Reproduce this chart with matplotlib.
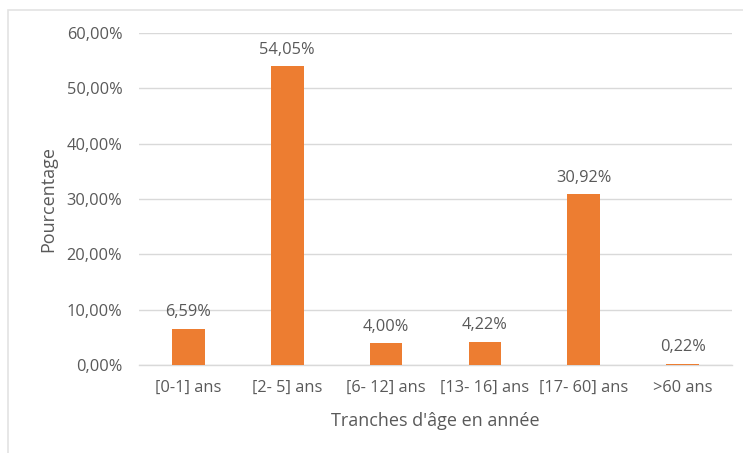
import matplotlib
matplotlib.use("Agg")
import matplotlib.pyplot as plt
from matplotlib.patches import Rectangle
from matplotlib.ticker import FuncFormatter

categories = ["[0-1] ans", "[2- 5] ans", "[6- 12] ans", "[13- 16] ans", "[17- 60] ans", ">60 ans"]
values = [6.59, 54.05, 4.00, 4.22, 30.92, 0.22]
y_ticks = [0, 10, 20, 30, 40, 50, 60]

plt.rcParams['font.family'] = ['Open Sans', 'DejaVu Sans']
txt = '#595959'
grid = '#d9d9d9'
bar_color = '#ED7D31'

W, H = 743, 453
fig = plt.figure(figsize=(W / 100, H / 100), dpi=100)
fig.patches.append(Rectangle((8 / W, -0.1), 1.2, 1 - 10 / H + 0.1, transform=fig.transFigure,
                             fill=False, edgecolor='#e3e3e3', linewidth=1.2, zorder=0))

ax = fig.add_axes([139 / W, 1 - 365 / H, (732 - 139) / W, (365 - 33) / H])
x = range(len(categories))
bars = ax.bar(x, values, width=0.33, color=bar_color, zorder=3)
ax.set_xlim(-0.5, len(categories) - 0.5)
ax.set_ylim(0, 60)
ax.set_yticks(y_ticks)
ax.yaxis.set_major_formatter(FuncFormatter(lambda v, p: f"{v:.2f}%".replace('.', ',')))
ax.set_xticks(list(x))
ax.set_xticklabels(categories)
ax.grid(axis='y', color=grid, linewidth=1, zorder=0)
for s in ['top', 'right', 'left']:
    ax.spines[s].set_visible(False)
ax.spines['bottom'].set_color(grid)
ax.spines['bottom'].set_linewidth(1)
ax.tick_params(axis='y', length=0, labelsize=11.8, labelcolor=txt, pad=12)
ax.tick_params(axis='x', length=0, labelsize=11.8, labelcolor=txt, pad=11)

for xi, v in zip(x, values):
    ax.annotate(f"{v:.2f}%".replace('.', ','), (xi, v), xytext=(0, 6), textcoords='offset points',
                ha='center', va='bottom', fontsize=11.8, color=txt)

ax.set_xlabel("Tranches d'âge en année", fontsize=13, color=txt)
ax.set_ylabel("Pourcentage", fontsize=13, color=txt)
ax.xaxis.set_label_coords(0.5, 0, transform=ax.transAxes)
ax.xaxis.label.set_va('center')
ax.xaxis.set_label_coords((435.5 - 139) / (732 - 139), -(421 - 365) / (365 - 33))
ax.yaxis.set_label_coords(-(139 - 48) / (732 - 139), 0.5)
ax.yaxis.label.set_va('center')

fig.savefig("out.png", dpi=100, facecolor='white')
